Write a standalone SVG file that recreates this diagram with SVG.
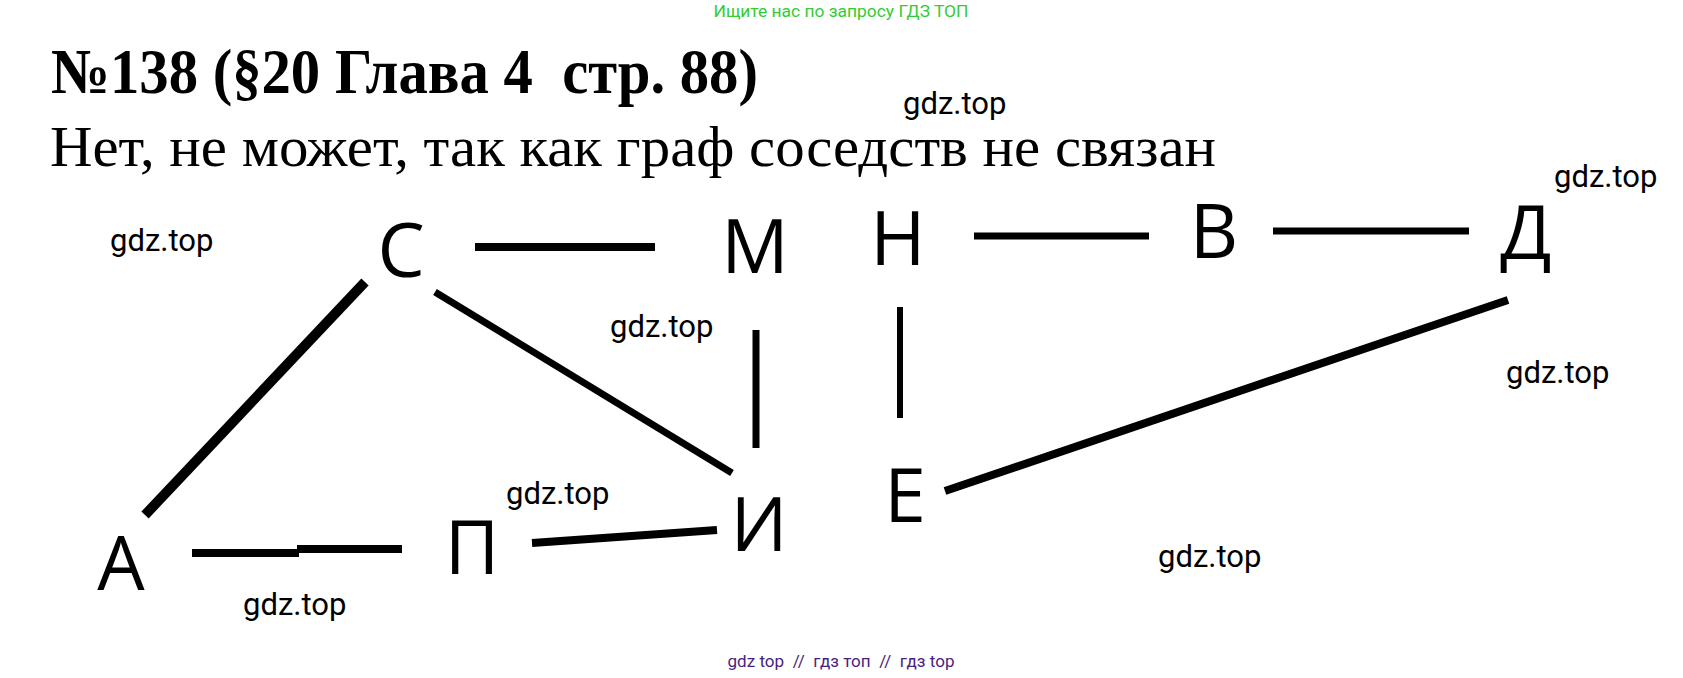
<svg xmlns="http://www.w3.org/2000/svg" width="1683" height="678" viewBox="0 0 1683 678">
<style>
.hdr{font-family:"Liberation Serif","Times New Roman",serif;fill:#000}
.wm{font-family:Roboto,"Liberation Sans",sans-serif;font-size:31px;fill:#000}
.lbl{font-family:"Open Sans","Noto Sans",sans-serif;font-size:75px;fill:#000;text-anchor:middle}
.edge{stroke:#000;stroke-linecap:butt;fill:none}
</style>
<rect width="1683" height="678" fill="#fff"/>
<text x="841" y="17" font-family="Roboto,'Liberation Sans',sans-serif" font-size="17" fill="#33cc33" text-anchor="middle" textLength="255" lengthAdjust="spacingAndGlyphs">Ищите нас по запросу ГДЗ ТОП</text>
<text class="hdr" x="51" y="93" font-size="64" font-weight="bold" textLength="707" lengthAdjust="spacingAndGlyphs" xml:space="preserve">№138 (§20 Глава 4  стр. 88)</text>
<text class="hdr" x="50" y="166" font-size="56" textLength="1166" lengthAdjust="spacingAndGlyphs">Нет, не может, так как граф соседств не связан</text>
<g id="watermarks">
<text class="wm" x="903" y="114">gdz.top</text>
<text class="wm" x="110" y="251">gdz.top</text>
<text class="wm" x="1554" y="187">gdz.top</text>
<text class="wm" x="610" y="337">gdz.top</text>
<text class="wm" x="1506" y="383">gdz.top</text>
<text class="wm" x="506" y="504">gdz.top</text>
<text class="wm" x="1158" y="567">gdz.top</text>
<text class="wm" x="243" y="615">gdz.top</text>
</g>
<g id="connectors">
<line class="edge" x1="475" y1="247" x2="655" y2="247" stroke-width="8"/>
<line class="edge" x1="974" y1="236" x2="1149" y2="236" stroke-width="7"/>
<line class="edge" x1="1273" y1="231" x2="1469" y2="231" stroke-width="7"/>
<line class="edge" x1="145" y1="515" x2="365" y2="282" stroke-width="10"/>
<line class="edge" x1="435" y1="292" x2="732" y2="473" stroke-width="7"/>
<line class="edge" x1="756" y1="330" x2="756" y2="448" stroke-width="7"/>
<line class="edge" x1="900" y1="307" x2="900" y2="418" stroke-width="6"/>
<line class="edge" x1="192" y1="553" x2="299" y2="553" stroke-width="8"/>
<line class="edge" x1="297" y1="549" x2="402" y2="549" stroke-width="8"/>
<line class="edge" x1="532" y1="543" x2="717" y2="530" stroke-width="8"/>
<line class="edge" x1="945" y1="491" x2="1508" y2="300" stroke-width="8"/>
</g>
<g id="node-A"><text class="lbl" x="121" y="590">А</text></g>
<g id="node-S"><text class="lbl" x="401" y="277">С</text></g>
<g id="node-M"><text class="lbl" x="755" y="273">М</text></g>
<g id="node-N"><text class="lbl" x="898" y="265">Н</text></g>
<g id="node-V"><text class="lbl" x="1214" y="258">В</text></g>
<g id="node-D"><text class="lbl" x="1526" y="259">Д</text></g>
<g id="node-I"><text class="lbl" x="759" y="551">И</text></g>
<g id="node-E"><text class="lbl" x="905" y="522">Е</text></g>
<g id="node-P"><text class="lbl" x="472" y="574">П</text></g>
<text x="841" y="667" font-family="Roboto,'Liberation Sans',sans-serif" font-size="17" fill="#4a1f80" text-anchor="middle" textLength="227" lengthAdjust="spacingAndGlyphs" xml:space="preserve">gdz top  //  гдз топ  //  гдз top</text>
</svg>
